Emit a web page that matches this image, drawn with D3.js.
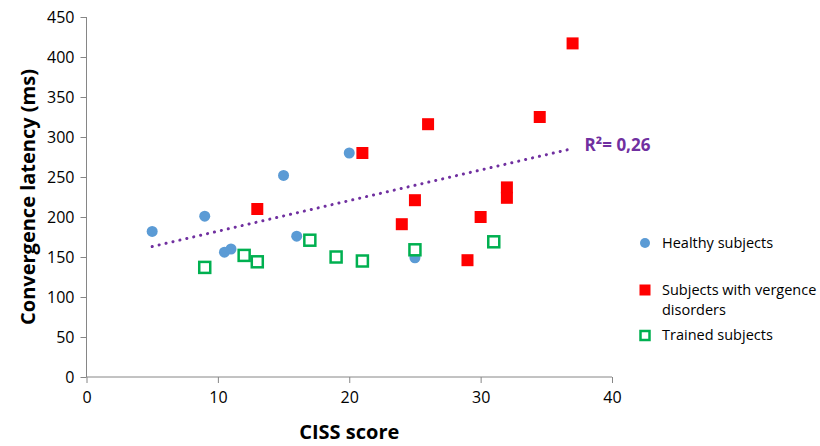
<!DOCTYPE html>
<html>
<head>
<meta charset="utf-8">
<script src="https://cdn.jsdelivr.net/npm/d3@7"></script>
<style>
  body { margin: 0; background: #fff; }
  svg { font-family: "Open Sans", "Noto Sans", sans-serif; }
</style>
</head>
<body>
<svg id="chart" width="820" height="446"></svg>
<script>
// CISS score (x) and convergence latency in ms (y)
var healthyX = [5, 9, 10.5, 11, 15, 16, 20, 25];
var healthyY = [182, 201, 156, 160, 252, 176, 280, 149];

var disorderX = [13, 21, 24, 25, 26, 29, 30, 32, 32, 34.5, 37];
var disorderY = [210, 280, 191, 221, 316, 146, 200, 237, 224, 325, 417];

var trainedX = [9, 12, 13, 17, 19, 21, 25, 31];
var trainedY = [137, 152, 144, 171, 150, 145, 159, 169];

var xTicks = [0, 10, 20, 30, 40];
var yTicks = [0, 50, 100, 150, 200, 250, 300, 350, 400, 450];
var r2Label = "R²= 0,26";

var svg = d3.select("#chart"),
    plotLeft = 86.5,
    plotRight = 612,
    plotTop = 17,
    plotBottom = 377;

var x = d3.scaleLinear().domain([0, 40]).range([plotLeft, plotRight]);
var y = d3.scaleLinear().domain([0, 450]).range([plotBottom, plotTop]);

function pairs(xs, ys) {
    return xs.map(function(v, i) { return { x: v, y: ys[i] }; });
}

// axes
var xAxis = svg.append("g")
    .attr("transform", "translate(0," + plotBottom + ")")
    .call(d3.axisBottom(x).tickValues(xTicks).tickSize(6).tickPadding(9));
var yAxis = svg.append("g")
    .attr("transform", "translate(" + plotLeft + ",0)")
    .call(d3.axisLeft(y).tickValues(yTicks).tickSize(6).tickPadding(6));

[xAxis, yAxis].forEach(function(a) {
    a.selectAll("path,line").attr("stroke", "#868686").attr("stroke-width", 1);
    a.select(".domain").attr("d", a === xAxis ?
        "M" + plotLeft + ",0H" + plotRight : "M0," + plotBottom + "V" + plotTop);
    a.selectAll("text").attr("font-size", 16).attr("fill", "#000")
        .attr("font-family", "\"Open Sans\", sans-serif");
});

// trend line on healthy + vergence disorders
var reg = pairs(healthyX, healthyY).concat(pairs(disorderX, disorderY));
var mx = d3.mean(reg, function(d) { return d.x; }),
    my = d3.mean(reg, function(d) { return d.y; });
var sxy = d3.sum(reg, function(d) { return (d.x - mx) * (d.y - my); }),
    sxx = d3.sum(reg, function(d) { return (d.x - mx) * (d.x - mx); });
var slope = sxy / sxx, icpt = my - slope * mx;
var x0 = d3.min(reg, function(d) { return d.x; }),
    x1 = d3.max(reg, function(d) { return d.x; });

svg.append("line")
    .attr("x1", x(x0)).attr("y1", y(icpt + slope * x0))
    .attr("x2", x(x1)).attr("y2", y(icpt + slope * x1))
    .attr("stroke", "#7030A0")
    .attr("stroke-width", 3)
    .attr("stroke-linecap", "round")
    .attr("stroke-dasharray", "0.1 7");

svg.append("text")
    .attr("x", x(x1) + 12)
    .attr("y", y(icpt + slope * x1) - 4)
    .attr("dy", ".35em")
    .attr("font-size", 17)
    .attr("font-weight", "bold")
    .attr("fill", "#7030A0")
    .text(r2Label);

// markers
svg.append("g").selectAll("circle")
    .data(pairs(healthyX, healthyY))
    .enter().append("circle")
    .attr("cx", function(d) { return x(d.x); })
    .attr("cy", function(d) { return y(d.y); })
    .attr("r", 5.5)
    .attr("fill", "#5B9BD5");

svg.append("g").selectAll("rect")
    .data(pairs(disorderX, disorderY))
    .enter().append("rect")
    .attr("x", function(d) { return x(d.x) - 6; })
    .attr("y", function(d) { return y(d.y) - 6; })
    .attr("width", 12).attr("height", 12)
    .attr("fill", "#FF0000");

svg.append("g").selectAll("rect")
    .data(pairs(trainedX, trainedY))
    .enter().append("rect")
    .attr("x", function(d) { return x(d.x) - 5.5; })
    .attr("y", function(d) { return y(d.y) - 5.5; })
    .attr("width", 11).attr("height", 11)
    .attr("fill", "#fff")
    .attr("stroke", "#00B050")
    .attr("stroke-width", 2.5);

// axis titles
svg.append("text")
    .attr("x", (plotLeft + plotRight) / 2)
    .attr("y", 432)
    .attr("dy", ".35em")
    .attr("text-anchor", "middle")
    .attr("font-size", 20)
    .attr("font-weight", "bold")
    .text("CISS score");

svg.append("text")
    .attr("transform", "translate(28," + ((plotTop + plotBottom) / 2) + ") rotate(-90)")
    .attr("dy", ".35em")
    .attr("text-anchor", "middle")
    .attr("font-size", 20)
    .attr("font-weight", "bold")
    .text("Convergence latency (ms)");

// legend
var lg = svg.append("g").attr("font-size", 14.5);
lg.append("circle").attr("cx", 645).attr("cy", 243).attr("r", 5).attr("fill", "#5B9BD5");
lg.append("text").attr("x", 662).attr("y", 243).attr("dy", ".35em").text("Healthy subjects");

lg.append("rect").attr("x", 639.5).attr("y", 284.5).attr("width", 11).attr("height", 11).attr("fill", "#FF0000");
lg.append("text").attr("x", 662).attr("y", 290).attr("dy", ".35em").text("Subjects with vergence");
lg.append("text").attr("x", 662).attr("y", 310).attr("dy", ".35em").text("disorders");

lg.append("rect").attr("x", 640.5).attr("y", 331).attr("width", 9).attr("height", 9)
    .attr("fill", "#fff").attr("stroke", "#00B050").attr("stroke-width", 2.5);
lg.append("text").attr("x", 662).attr("y", 335).attr("dy", ".35em").text("Trained subjects");
</script>
</body>
</html>
